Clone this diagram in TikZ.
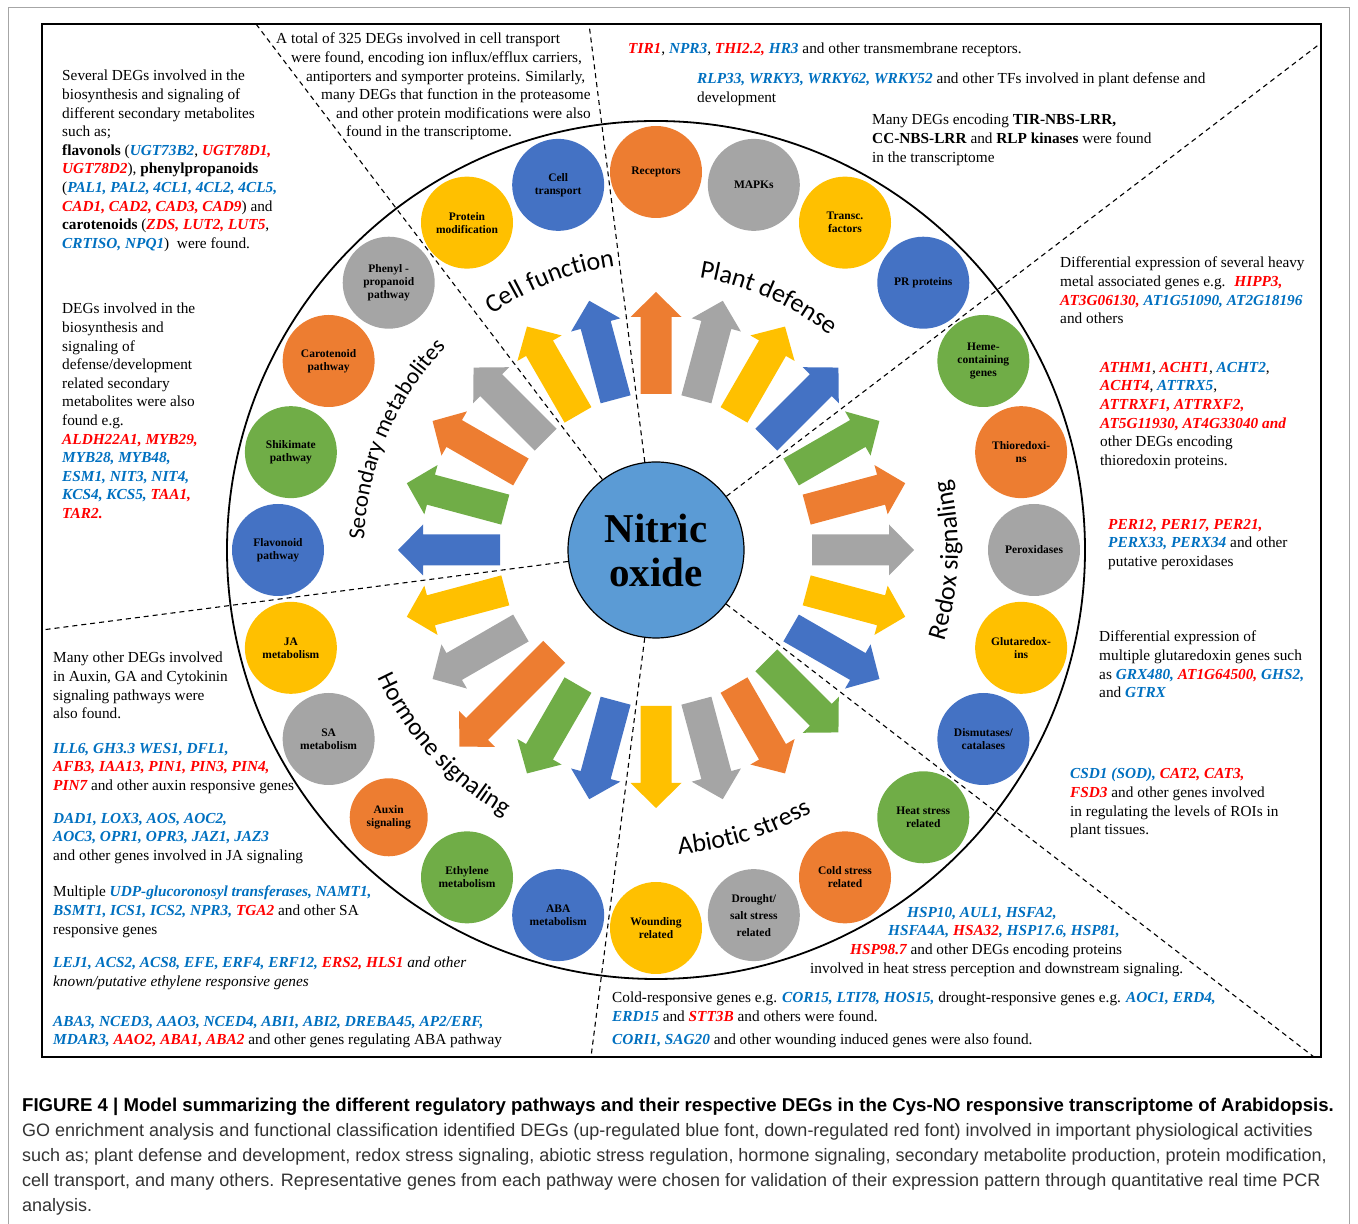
\documentclass[tikz,border=0pt]{standalone}
\usepackage{fontspec}
\setmainfont{Liberation Serif}
\newfontfamily\capfont{Liberation Sans}
\newfontfamily\secfont{Carlito}
\usetikzlibrary{decorations.text}
\definecolor{gblue}{HTML}{0070C0}
\definecolor{gred}{HTML}{FF0000}
\definecolor{corange}{HTML}{ED7D31}
\definecolor{cgray}{HTML}{A5A5A5}
\definecolor{cyellow}{HTML}{FFC000}
\definecolor{cblue}{HTML}{4472C4}
\definecolor{cgreen}{HTML}{70AD47}
\definecolor{noblue}{HTML}{5B9BD5}
\newcommand{\gb}[1]{\textcolor{gblue}{\bfseries\itshape #1}}
\newcommand{\gr}[1]{\textcolor{gred}{\bfseries\itshape #1}}
\newcommand{\secstyle}{\secfont\fontsize{26}{30}\selectfont}
\newcommand{\secsmall}{\secfont\fontsize{23}{27}\selectfont}
\newcommand{\secmid}{\secfont\fontsize{25}{29}\selectfont}
\newcommand{\sectitle}[5]{\path[decorate, decoration={text along path, text align=center, text={|#5|#4}}] ([shift={(656,674)}]#2:#1) arc[start angle=#2, end angle=#3, radius=#1];}
\newcommand{\noarrow}[4]{\begin{scope}[shift={(656,674)}, rotate=#1]
\fill[#2] (#3,-15.5) -- (#4-25,-15.5) -- (#4-25,-25.5) -- (#4,0) -- (#4-25,25.5) -- (#4-25,15.5) -- (#3,15.5) -- cycle;
\end{scope}}
\tikzset{
 txt/.style={inner sep=0pt, align=left, anchor=north west, font=\fontsize{15.3}{18.6}\selectfont},
 bub/.style={circle, inner sep=0pt, minimum size=92pt, align=center, font=\bfseries\fontsize{11.5}{13}\selectfont},
 dline/.style={dashed, dash pattern=on 5pt off 4pt, line width=1.1pt},
}
\begin{document}
\begin{tikzpicture}[x=1pt,y=1pt]
\useasboundingbox (0,0) rectangle (1358,1224);
% outer page border
\draw[gray!70, line width=1pt] (8,0) -- (8,1216) -- (1349,1216) -- (1349,0);
% frame
\draw[line width=2pt] (42,167) rectangle (1321,1200);
% big circle
\node[circle, draw, line width=1.8pt, minimum size=858pt, inner sep=0pt] (ring) at (656,674) {};
% dashed end points
\coordinate (d1) at (256,1200);
\coordinate (d2) at (589,1200);
\coordinate (d3) at (1321,1181);
\coordinate (d4) at (1314,167);
\coordinate (d5) at (591,167);
\coordinate (d6) at (42,594);
% arrows
\foreach \a/\c in {0/cgray,15/corange,30/cgreen,45/cblue,60/cyellow,75/cgray,90/corange,105/cblue,120/cyellow,135/cgray,150/corange,165/cgreen,180/cblue,195/cyellow,210/cgray,240/cgreen,255/cblue,270/cyellow,285/cgray,300/corange,315/cgreen,330/cblue,345/cyellow}{\noarrow{\a}{\c}{156}{258}}
\noarrow{225}{corange}{144}{278}
% centre
\node[circle, fill=noblue, draw=black, line width=1.2pt, minimum size=176pt, inner sep=0pt, align=center, font=\bfseries\fontsize{41}{44}\selectfont] (NO) at (656,674) {Nitric\\oxide};
\foreach \d in {d1,d2,d3,d4,d5,d6}{\draw[dline] (NO) -- (\d);}
% ring circles
\node[bub, fill=corange] (rec) at ([shift={(656,674)}]90:378) {Receptors};
\node[bub, fill=cgray] (mapk) at ([shift={(656,674)}]75:378) {MAPKs};
\node[bub, fill=cyellow] (tf) at ([shift={(656,674)}]60:378) {Transc.\\factors};
\node[bub, fill=cblue] (pr) at ([shift={(656,674)}]45:378) {PR proteins};
\node[bub, fill=cgreen] (heme) at ([shift={(656,674)}]30:378) {Heme-\\containing\\genes};
\node[bub, fill=corange] (thio) at ([shift={(656,674)}]15:378) {Thioredoxi-\\ns};
\node[bub, fill=cgray] (perox) at ([shift={(656,674)}]0:378) {Peroxidases};
\node[bub, fill=cyellow] (glut) at ([shift={(656,674)}]-15:378) {Glutaredox-\\ins};
\node[bub, fill=cblue] (dism) at ([shift={(656,674)}]-30:378) {Dismutases/\\catalases};
\node[bub, fill=cgreen] (heat) at ([shift={(656,674)}]-45:378) {Heat stress\\related};
\node[bub, fill=corange] (cold) at ([shift={(656,674)}]-60:378) {Cold stress\\related};
\node[bub, fill=cgray] (drought) at ([shift={(656,674)}]-75:378) {Drought/\\[4pt]salt stress\\[4pt]related};
\node[bub, fill=cyellow] (wound) at ([shift={(656,674)}]-90:378) {Wounding\\related};
\node[bub, fill=cblue] (aba) at ([shift={(656,674)}]-105:378) {ABA\\metabolism};
\node[bub, fill=cgreen] (eth) at ([shift={(656,674)}]-120:378) {Ethylene\\metabolism};
\node[bub, fill=corange, minimum size=78pt] (aux) at ([shift={(656,674)}]-135:378) {Auxin\\signaling};
\node[bub, fill=cgray] (sa) at ([shift={(656,674)}]-150:378) {SA\\metabolism};
\node[bub, fill=cyellow] (ja) at ([shift={(656,674)}]-165:378) {JA\\metabolism};
\node[bub, fill=cblue] (flav) at ([shift={(656,674)}]180:378) {Flavonoid\\pathway};
\node[bub, fill=cgreen] (shik) at ([shift={(656,674)}]165:378) {Shikimate\\pathway};
\node[bub, fill=corange] (carot) at ([shift={(656,674)}]150:378) {Carotenoid\\pathway};
\node[bub, fill=cgray] (phen) at ([shift={(656,674)}]135:378) {Phenyl -\\propanoid\\pathway};
\node[bub, fill=cyellow] (prot) at ([shift={(656,674)}]120:378) {Protein\\modification};
\node[bub, fill=cblue] (trans) at ([shift={(656,674)}]105:378) {Cell\\transport};
% section titles
\sectitle{287}{140}{83}{Cell function}{\secstyle}
\sectitle{276}{95}{37}{Plant defense}{\secstyle}
\sectitle{292}{198}{116}{Secondary metabolites}{\secsmall}
\sectitle{302}{-37}{33}{Redox signaling}{\secstyle}
\sectitle{305}{-105}{-40}{Abiotic stress}{\secstyle}
\sectitle{306}{185}{260}{Hormone signaling}{\secmid}
% text blocks
\node[txt] (tA) at (62,1154) {Several DEGs involved in the\\
biosynthesis and signaling of\\
different secondary metabolites\\
such as;\\
\textbf{flavonols} (\gb{UGT73B2}, \gr{UGT78D1,}\\
\gr{UGT78D2}), \textbf{phenylpropanoids}\\
(\gb{PAL1, PAL2, 4CL1, 4CL2, 4CL5,}\\
\gr{CAD1, CAD2, CAD3, CAD9}) and\\
\textbf{carotenoids} (\gr{ZDS, LUT2, LUT5},\\
\gb{CRTISO, NPQ1})~ were found.};
\node[txt] (tB) at (276,1191) {A total of 325 DEGs involved in cell transport\\
\hspace*{15pt}were found, encoding ion influx/efflux carriers,\\
\hspace*{30pt}antiporters and symporter proteins. Similarly,\\
\hspace*{45pt}many DEGs that function in the proteasome\\
\hspace*{60pt}and other protein modifications were also\\
\hspace*{70pt}found in the transcriptome.};
\node[txt] (tC1) at (628,1181) {\gr{TIR1}, \gb{NPR3}, \gr{THI2.2,} \gb{HR3} and other transmembrane receptors.};
\node[txt] (tC2) at (697,1151) {\gb{RLP33, WRKY3, WRKY62, WRKY52} and other TFs involved in plant defense and\\development};
\node[txt] (tC3) at (872,1110) {Many DEGs encoding \textbf{TIR-NBS-LRR,}\\\textbf{CC-NBS-LRR} and \textbf{RLP kinases} were found\\in the transcriptome};
\node[txt] (tD1) at (1060,967) {Differential expression of several heavy\\metal associated genes e.g.~ \gr{HIPP3,}\\\gr{AT3G06130,} \gb{AT1G51090, AT2G18196}\\and others};
\node[txt] (tD2) at (1100,862) {\gr{ATHM1}, \gr{ACHT1}, \gb{ACHT2},\\\gr{ACHT4}, \gb{ATTRX5},\\\gr{ATTRXF1, ATTRXF2,}\\\gr{AT5G11930, AT4G33040 and}\\other DEGs encoding\\thioredoxin proteins.};
\node[txt] (tD3) at (1108,705) {\gr{PER12, PER17, PER21,}\\\gb{PERX33, PERX34} and other\\putative peroxidases};
\node[txt] (tD4) at (1099,593) {Differential expression of\\multiple glutaredoxin genes such\\as \gb{GRX480,} \gr{AT1G64500,} \gb{GHS2,}\\and \gb{GTRX}};
\node[txt] (tD5) at (1070,456) {\gb{CSD1 (SOD),} \gr{CAT2, CAT3,}\\\gr{FSD3} and other genes involved\\in regulating the levels of ROIs in\\plant tissues.};
\node[txt] (tE1) at (810,317) {\hspace*{97pt}\gb{HSP10, AUL1, HSFA2,}\\\hspace*{78pt}\gb{HSFA4A,} \gr{HSA32}\gb{, HSP17.6, HSP81,}\\\hspace*{40pt}\gr{HSP98.7} and other DEGs encoding proteins\\involved in heat stress perception and downstream signaling.};
\node[txt] (tE2) at (612,232) {Cold-responsive genes e.g. \gb{COR15, LTI78, HOS15,} drought-responsive genes e.g. \gb{AOC1, ERD4,}\\\gb{ERD15} and \gr{STT3B} and others were found.};
\node[txt] (tE3) at (612,190) {\gb{CORI1, SAG20} and other wounding induced genes were also found.};
\node[txt] (tF) at (62,921) {DEGs involved in the\\biosynthesis and\\signaling of\\defense/development\\related secondary\\metabolites were also\\found e.g.\\\gr{ALDH22A1, MYB29,}\\\gb{MYB28, MYB48,}\\\gb{ESM1, NIT3, NIT4,}\\\gb{KCS4, KCS5,} \gr{TAA1,}\\\gr{TAR2.}};
\node[txt] (tG1) at (53,572) {Many other DEGs involved\\in Auxin, GA and Cytokinin\\signaling pathways were\\also found.};
\node[txt] (tG2) at (53,481) {\gb{ILL6, GH3.3 WES1, DFL1,}\\\gr{AFB3, IAA13, PIN1, PIN3, PIN4,}\\\gr{PIN7} and other auxin responsive genes};
\node[txt] (tG3) at (53,411) {\gb{DAD1, LOX3, AOS, AOC2,}\\\gb{AOC3, OPR1, OPR3, JAZ1, JAZ3}\\and other genes involved in JA signaling};
\node[txt] (tG4) at (53,338) {Multiple \gb{UDP-glucoronosyl transferases, NAMT1,}\\\gb{BSMT1, ICS1, ICS2, NPR3,} \gr{TGA2} and other SA\\responsive genes};
\node[txt] (tG5) at (53,267) {\gb{LEJ1, ACS2, ACS8, EFE, ERF4, ERF12,} \gr{ERS2, HLS1} \textit{and other}\\\textit{known/putative ethylene responsive genes}};
\node[txt] (tG6) at (53,208) {\gb{ABA3, NCED3, AAO3, NCED4, ABI1, ABI2, DREBA45, AP2/ERF,}\\\gb{MDAR3,} \gr{AAO2, ABA1, ABA2} and other genes regulating ABA pathway};
% caption
\node[inner sep=0pt, anchor=north west, align=left, font=\capfont\fontsize{18}{25}\selectfont, text=black!80] (cap) at (22,126) {\textcolor{black}{\fontsize{18.6}{25}\selectfont\textbf{FIGURE 4 | Model summarizing the different regulatory pathways and their respective DEGs in the Cys-NO responsive transcriptome of Arabidopsis.}}\\
GO enrichment analysis and functional classification identified DEGs (up-regulated blue font, down-regulated red font) involved in important physiological activities\\
such as; plant defense and development, redox stress signaling, abiotic stress regulation, hormone signaling, secondary metabolite production, protein modification,\\
cell transport, and many others. Representative genes from each pathway were chosen for validation of their expression pattern through quantitative real time PCR\\
analysis.};
\end{tikzpicture}
\end{document}
